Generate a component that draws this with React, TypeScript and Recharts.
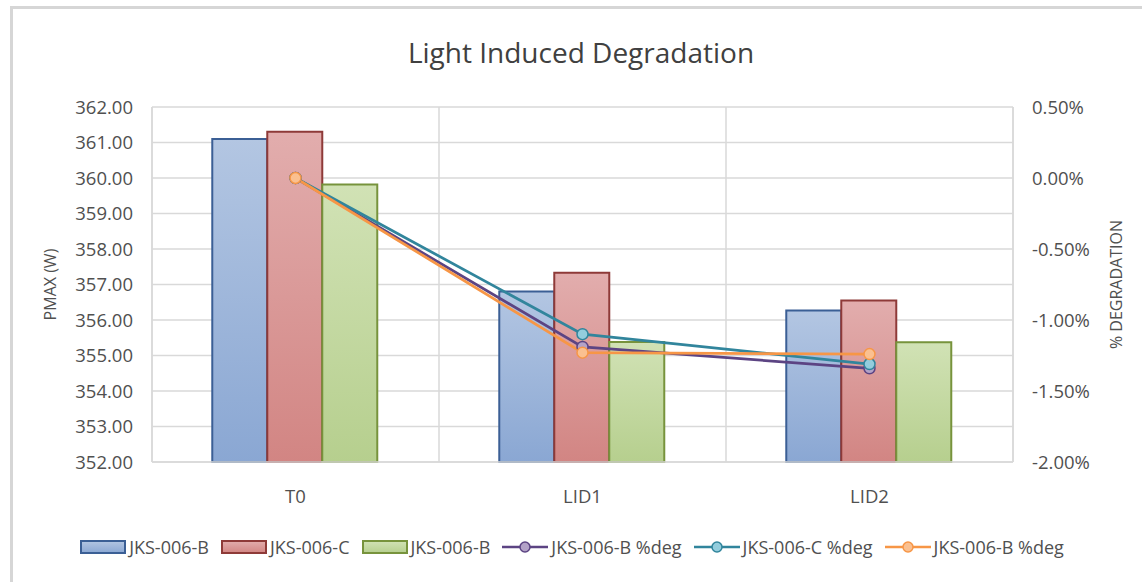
import React from "react";
import {
  ComposedChart,
  Bar,
  Line,
  XAxis,
  YAxis,
  CartesianGrid,
} from "recharts";

// Measurement stages
const categories = ["T0", "LID1", "LID2"];

// Module power (W) per stage
const pmaxB1 = [361.1, 356.8, 356.27];
const pmaxC = [361.3, 357.33, 356.55];
const pmaxB2 = [359.82, 355.38, 355.37];

// Degradation relative to T0 (%)
const degB1 = [0, -1.19, -1.34];
const degC = [0, -1.1, -1.31];
const degB2 = [0, -1.23, -1.24];

// Axis ticks
const leftTicks = [352, 353, 354, 355, 356, 357, 358, 359, 360, 361, 362];
const rightTicks = [-2, -1.5, -1, -0.5, 0, 0.5];

const data = categories.map((name, i) => ({
  name,
  b1: pmaxB1[i],
  c: pmaxC[i],
  b2: pmaxB2[i],
  d1: degB1[i],
  d2: degC[i],
  d3: degB2[i],
}));

const FONT = "'Open Sans', sans-serif";
const TEXT = "#505050";
const GRID = "#d9d9d9";
const W = 1142;
const H = 582;
const TICK_SIZE = 18.5;

const legendItems = [
  { key: "b1", label: "JKS-006-B", kind: "bar", fill: "url(#lgBlue)", stroke: "#3b5f95" },
  { key: "c", label: "JKS-006-C", kind: "bar", fill: "url(#lgRed)", stroke: "#8e3a38" },
  { key: "b2", label: "JKS-006-B", kind: "bar", fill: "url(#lgGreen)", stroke: "#77933c" },
  { key: "d1", label: "JKS-006-B %deg", kind: "line", fill: "#b3a2c7", stroke: "#5c4483" },
  { key: "d2", label: "JKS-006-C %deg", kind: "line", fill: "#93cddd", stroke: "#31859c" },
  { key: "d3", label: "JKS-006-B %deg", kind: "line", fill: "#fac090", stroke: "#f79646" },
];

function Gradients({ prefix }: { prefix: string }) {
  return (
    <>
      <linearGradient id={`${prefix}Blue`} x1="0" y1="0" x2="0" y2="1">
        <stop offset="0%" stopColor="#b3c6e2" />
        <stop offset="100%" stopColor="#8aa7d3" />
      </linearGradient>
      <linearGradient id={`${prefix}Red`} x1="0" y1="0" x2="0" y2="1">
        <stop offset="0%" stopColor="#e2adad" />
        <stop offset="100%" stopColor="#d28583" />
      </linearGradient>
      <linearGradient id={`${prefix}Green`} x1="0" y1="0" x2="0" y2="1">
        <stop offset="0%" stopColor="#d1e2b5" />
        <stop offset="100%" stopColor="#b6cf8e" />
      </linearGradient>
    </>
  );
}

function ChartLegend() {
  return (
    <div
      style={{
        position: "absolute",
        left: 0,
        top: 535,
        width: W + 2,
        display: "flex",
        justifyContent: "center",
        alignItems: "center",
        fontFamily: FONT,
        fontSize: 18,
        color: TEXT,
        whiteSpace: "nowrap",
      }}
    >
      <svg width={0} height={0} style={{ position: "absolute" }}>
        <defs>
          <Gradients prefix="lg" />
        </defs>
      </svg>
      {legendItems.map((it, i) => (
        <div
          key={it.key}
          style={{ display: "flex", alignItems: "center", marginLeft: i === 0 ? 0 : 12 }}
        >
          <svg width={46} height={16} style={{ marginRight: 3 }}>
            {it.kind === "bar" ? (
              <rect x={1} y={2} width={44} height={12} fill={it.fill} stroke={it.stroke} strokeWidth={2} />
            ) : (
              <>
                <line x1={0} y1={8} x2={46} y2={8} stroke={it.stroke} strokeWidth={2.5} />
                <circle cx={23} cy={8} r={5} fill={it.fill} stroke={it.stroke} strokeWidth={1.5} />
              </>
            )}
          </svg>
          <span>{it.label}</span>
        </div>
      ))}
    </div>
  );
}

export default function App() {
  return (
    <div style={{ position: "absolute", left: 0, top: 0, width: W, height: H, overflow: "hidden", background: "#fff" }}>
      <div
        style={{
          position: "absolute",
          left: 10,
          top: 6,
          width: W,
          height: H + 20,
          borderTop: "3px solid #d6d6d6",
          borderLeft: "3px solid #d6d6d6",
        }}
      />
      <div
        style={{
          position: "absolute",
          left: 0,
          top: 33,
          width: W + 20,
          textAlign: "center",
          fontFamily: FONT,
          fontSize: 28,
          color: "#404040",
        }}
      >
        Light Induced Degradation
      </div>
      <div style={{ position: "absolute", left: 0, top: 0 }}>
        <ComposedChart
          width={W}
          height={H}
          data={data}
          margin={{ top: 107, right: 0, bottom: 90, left: 0 }}
          barCategoryGap="21%"
          barGap={0}
        >
          <defs>
            <Gradients prefix="g" />
          </defs>
          <CartesianGrid
            yAxisId="left"
            stroke={GRID}
            strokeWidth={1.5}
            verticalCoordinatesGenerator={({ offset }: any) =>
              [0, 1, 2, 3].map((i) => offset.left + (offset.width * i) / 3)
            }
          />
          <XAxis
            dataKey="name"
            height={30}
            tickLine={false}
            axisLine={{ stroke: GRID, strokeWidth: 1.5 }}
            tickMargin={22}
            tick={{ fontFamily: FONT, fontSize: TICK_SIZE, fill: TEXT }}
          />
          <YAxis
            yAxisId="left"
            width={152}
            domain={[352, 362]}
            ticks={leftTicks}
            interval={0}
            tickLine={false}
            axisLine={{ stroke: GRID, strokeWidth: 1.5 }}
            tickMargin={13}
            tickFormatter={(v: number) => v.toFixed(2)}
            tick={{ fontFamily: FONT, fontSize: TICK_SIZE, fill: TEXT }}
            label={{
              value: "PMAX (W)",
              angle: -90,
              position: "insideLeft",
              offset: 50,
              style: { fontFamily: FONT, fontSize: 16, fill: TEXT, textAnchor: "middle" },
            }}
          />
          <YAxis
            yAxisId="right"
            orientation="right"
            width={129}
            domain={[-2, 0.5]}
            ticks={rightTicks}
            interval={0}
            tickLine={false}
            axisLine={{ stroke: GRID, strokeWidth: 1.5 }}
            tickMargin={13}
            tickFormatter={(v: number) => `${v.toFixed(2)}%`}
            tick={{ fontFamily: FONT, fontSize: TICK_SIZE, fill: TEXT }}
            label={{
              value: "% DEGRADATION",
              angle: -90,
              position: "insideRight",
              offset: 26,
              style: { fontFamily: FONT, fontSize: 16, fill: TEXT, textAnchor: "middle" },
            }}
          />
          <Bar yAxisId="left" dataKey="b1" name="JKS-006-B" fill="url(#gBlue)" stroke="#3b5f95" strokeWidth={2} isAnimationActive={false} />
          <Bar yAxisId="left" dataKey="c" name="JKS-006-C" fill="url(#gRed)" stroke="#8e3a38" strokeWidth={2} isAnimationActive={false} />
          <Bar yAxisId="left" dataKey="b2" name="JKS-006-B" fill="url(#gGreen)" stroke="#77933c" strokeWidth={2} isAnimationActive={false} />
          <Line
            yAxisId="right"
            type="linear"
            dataKey="d1"
            name="JKS-006-B %deg"
            stroke="#5c4483"
            strokeWidth={2.75}
            dot={{ r: 5.5, fill: "#b3a2c7", stroke: "#5c4483", strokeWidth: 1.5 }}
            isAnimationActive={false}
          />
          <Line
            yAxisId="right"
            type="linear"
            dataKey="d2"
            name="JKS-006-C %deg"
            stroke="#31859c"
            strokeWidth={2.75}
            dot={{ r: 5.5, fill: "#93cddd", stroke: "#31859c", strokeWidth: 1.5 }}
            isAnimationActive={false}
          />
          <Line
            yAxisId="right"
            type="linear"
            dataKey="d3"
            name="JKS-006-B %deg"
            stroke="#f79646"
            strokeWidth={2.75}
            dot={{ r: 5.5, fill: "#fac090", stroke: "#f79646", strokeWidth: 1.5 }}
            isAnimationActive={false}
          />
        </ComposedChart>
      </div>
      <ChartLegend />
    </div>
  );
}
